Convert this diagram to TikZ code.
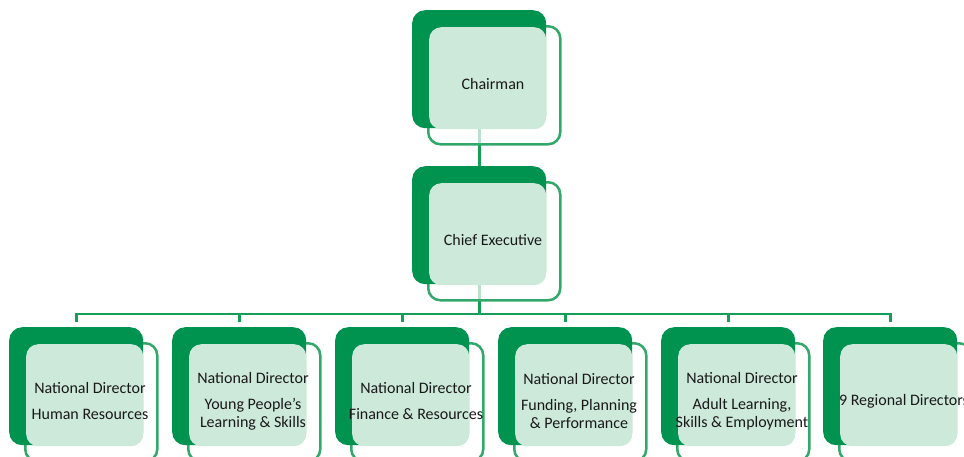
\documentclass[tikz,border=0pt]{standalone}
\usepackage{fontspec}
\setmainfont{Carlito}
\usetikzlibrary{calc,backgrounds}
\definecolor{dkgreen}{RGB}{0,146,79}
\definecolor{ltgreen}{RGB}{205,233,218}
\definecolor{olgreen}{RGB}{50,168,106}
\definecolor{lngreen}{RGB}{20,158,88}
\newcommand\orgbox[4]{%
  \node[outlinebox] (#1-o) at (#2+15,#3+15) {};
  \node[darkbox] (#1-d) at (#2,#3) {};
  \node[lightbox] (#1-l) at (#2+17,#3+17) {};
  \node[boxtext] (#1) at (#2+81,#3+74) {#4};
}
\begin{document}
\begin{tikzpicture}[x=1pt,y=-1pt,
  darkbox/.style={rectangle, rounded corners=13pt, fill=dkgreen, minimum width=134pt, minimum height=118pt, anchor=north west, inner sep=0pt},
  lightbox/.style={rectangle, rounded corners=12pt, fill=ltgreen, minimum width=117pt, minimum height=102pt, anchor=north west, inner sep=0pt},
  outlinebox/.style={rectangle, rounded corners=12pt, draw=olgreen, line width=2.5pt, fill=white, fill opacity=0.7, minimum width=132pt, minimum height=118pt, anchor=north west, inner sep=0pt},
  conn/.style={draw=lngreen, line width=2.6pt},
  boxtext/.style={font=\fontsize{16}{18}\selectfont, align=center, text=black!90, inner sep=0pt}
]
\useasboundingbox (0,0) rectangle (964,456);
\clip (0,0) rectangle (964,456);
\orgbox{chair}{412}{10}{Chairman}
\orgbox{ceo}{412}{166}{Chief Executive}
\orgbox{b1}{9}{327}{National Director\\[8pt]Human Resources}
\orgbox{b2}{172}{327}{National Director\\[8pt]Young People’s\\Learning \& Skills}
\orgbox{b3}{335}{327}{National Director\\[8pt]Finance \& Resources}
\orgbox{b4}{498}{327}{National Director\\[8pt]Funding, Planning\\\& Performance}
\orgbox{b5}{661}{327}{National Director\\[8pt]Adult Learning,\\Skills \& Employment}
\orgbox{b6}{823}{327}{9 Regional Directors}
\begin{scope}[on background layer]
  \draw[conn] (chair-d.south) -- (ceo-d.north);
  \coordinate (busL) at ($(b1-d.north)+(0,-13)$);
  \draw[conn] ($(b1-d.north)+(0,-5)$) -- (busL) -| ($(b6-d.north)+(0,-5)$);
  \draw[conn] (ceo-d.south) -- (ceo-d.south |- busL);
  \foreach \b in {b2,b3,b4,b5}{
    \draw[conn] ($(\b-d.north)+(0,-5)$) -- (\b-d.north |- busL);
  }
\end{scope}
\end{tikzpicture}
\end{document}
